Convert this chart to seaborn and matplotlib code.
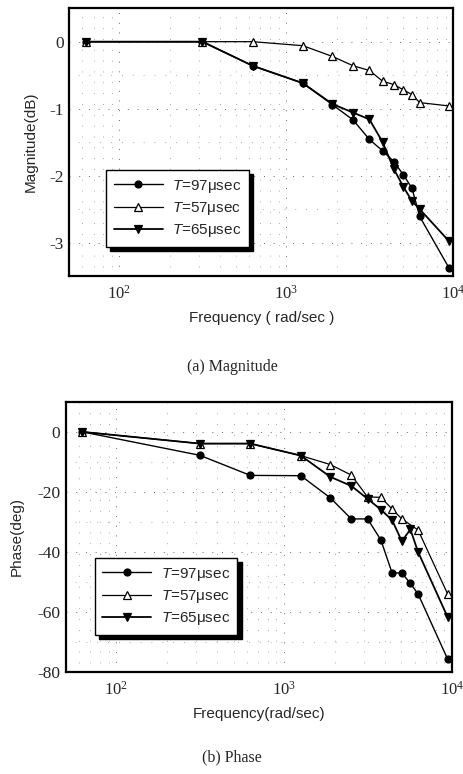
import numpy as np
import pandas as pd
import matplotlib
matplotlib.use("Agg")
import matplotlib.pyplot as plt
from matplotlib.ticker import LogLocator, MultipleLocator, NullFormatter
import seaborn as sns

# frequencies (rad/sec): 10, 50, 100, ... 1500 Hz times 2*pi
freq = [62.8, 314, 628, 1257, 1885, 2513, 3142, 3770, 4398, 5027, 5655, 6283, 9425]

# magnitude (dB)
mag_97 = [0, 0, -0.36, -0.62, -0.94, -1.17, -1.46, -1.63, -1.79, -1.99, -2.19, -2.61, -3.38]
mag_57 = [0, 0, 0, -0.06, -0.22, -0.36, -0.43, -0.59, -0.64, -0.72, -0.79, -0.91, -0.96]
mag_65 = [0, 0, -0.36, -0.62, -0.93, -1.06, -1.16, -1.50, -1.90, -2.17, -2.38, -2.50, -2.98]

# phase (deg)
ph_97 = [0, -7.8, -14.5, -14.6, -22, -29, -29, -36, -47, -47, -50.5, -54, -75.7]
freq_57p = [62.8, 314, 628, 1257, 1885, 2513, 3142, 3770, 4398, 5027, 6283, 9425]
ph_57 = [0, -3.9, -3.9, -7.9, -10.9, -14.4, -21.7, -21.8, -25.7, -29, -32.7, -54]
ph_65 = [0, -3.9, -3.9, -7.9, -15, -18, -22.3, -25.9, -29.4, -36.4, -32.5, -40, -61.7]

labels = ["$T$=97\u03bcsec", "$T$=57\u03bcsec", "$T$=65\u03bcsec"]

sns.set_style("white")
plt.rcParams['font.family'] = ['Liberation Sans', 'DejaVu Sans']
plt.rcParams['mathtext.fontset'] = 'custom'
plt.rcParams['mathtext.rm'] = 'Liberation Sans'
plt.rcParams['mathtext.it'] = 'Liberation Sans:italic'

fig = plt.figure(figsize=(4.64, 7.74), dpi=100)
ax1 = fig.add_axes([0.149, 0.6434, 0.828, 0.346])
ax2 = fig.add_axes([0.142, 0.1318, 0.832, 0.349])

styles = [
    dict(marker='o', markersize=5, markerfacecolor='k', markeredgecolor='k', lw=1.0),
    dict(marker='^', markersize=6, markerfacecolor='white', markeredgecolor='k', lw=0.9),
    dict(marker='v', markersize=6, markerfacecolor='k', markeredgecolor='k', lw=1.3),
]

mag_sets = [(freq, mag_97), (freq, mag_57), (freq, mag_65)]
ph_sets = [(freq, ph_97), (freq_57p, ph_57), (freq, ph_65)]

for ax, sets in [(ax1, mag_sets), (ax2, ph_sets)]:
    for (x, y), lab, st in zip(sets, labels, styles):
        sns.lineplot(x=x, y=y, ax=ax, color='k', label=lab, sort=False,
                     markeredgewidth=0.9, **st)

serif = 'Liberation Serif'

for ax in (ax1, ax2):
    ax.set_xscale('log')
    ax.set_xlim(50, 1e4)
    ax.xaxis.set_major_locator(LogLocator(base=10, numticks=10))
    ax.xaxis.set_minor_locator(LogLocator(base=10, subs=np.arange(2, 10), numticks=20))
    ax.xaxis.set_minor_formatter(NullFormatter())
    ax.tick_params(which='both', direction='in', top=False, right=False)
    ax.tick_params(which='major', length=4, width=1)
    ax.tick_params(which='minor', length=2.5, width=0.8)
    ax.tick_params(axis='x', labelsize=12, pad=6)
    ax.tick_params(axis='y', labelsize=12.5, pad=4)
    for lab in ax.get_xticklabels() + ax.get_yticklabels():
        lab.set_family(serif)
    for sp in ax.spines.values():
        sp.set_linewidth(1.6)
        sp.set_color('k')
    # sparse dotted grid like the scanned original
    ax.grid(True, which='major', color='k', linestyle=(0, (1, 9)), linewidth=0.7, alpha=0.6)
    ax.grid(True, which='minor', color='k', linestyle=(2, (1, 12)), linewidth=0.6, alpha=0.45)

ax1.set_ylim(-3.5, 0.5)
ax1.yaxis.set_minor_locator(MultipleLocator(0.5))
ax1.set_yticks([-3, -2, -1, 0])
ax1.set_yticklabels(['-3', '-2', '-1', '0'], family=serif)

ax2.set_ylim(-80, 10)
ax2.set_yticks([-80, -60, -40, -20, 0])
ax2.yaxis.set_minor_locator(MultipleLocator(10))
ax2.set_yticklabels(['-80', '-60', '-40', '-20', '0'], family=serif)

ax1.set_xlabel('Frequency ( rad/sec )', fontsize=11, labelpad=6)
ax1.set_ylabel('Magnitude(dB)', fontsize=11)
ax1.yaxis.set_label_coords(-0.081, 0.5)
ax2.set_xlabel('Frequency(rad/sec)', fontsize=11, labelpad=6)
ax2.set_ylabel('Phase(deg)', fontsize=11)
ax2.yaxis.set_label_coords(-0.109, 0.5)

for ax, anchor in [(ax1, (0.096, 0.108)), (ax2, (0.075, 0.137))]:
    leg = ax.legend(loc='lower left', bbox_to_anchor=anchor, fontsize=11, borderaxespad=0,
                    frameon=True, fancybox=False, shadow={'color': 'k', 'alpha': 1, 'ox': 3, 'oy': -3},
                    edgecolor='k', handlelength=3.2, borderpad=0.5, labelspacing=0.35,
                    handletextpad=0.6)
    leg.get_frame().set_linewidth(1.0)

fig.text(0.5, 1 - 367 / 774, '(a) Magnitude', ha='center', va='center', family=serif, fontsize=11.5)
fig.text(0.5, 1 - 757 / 774, '(b) Phase', ha='center', va='center', family=serif, fontsize=11.5)

fig.savefig('out.png', dpi=100)
